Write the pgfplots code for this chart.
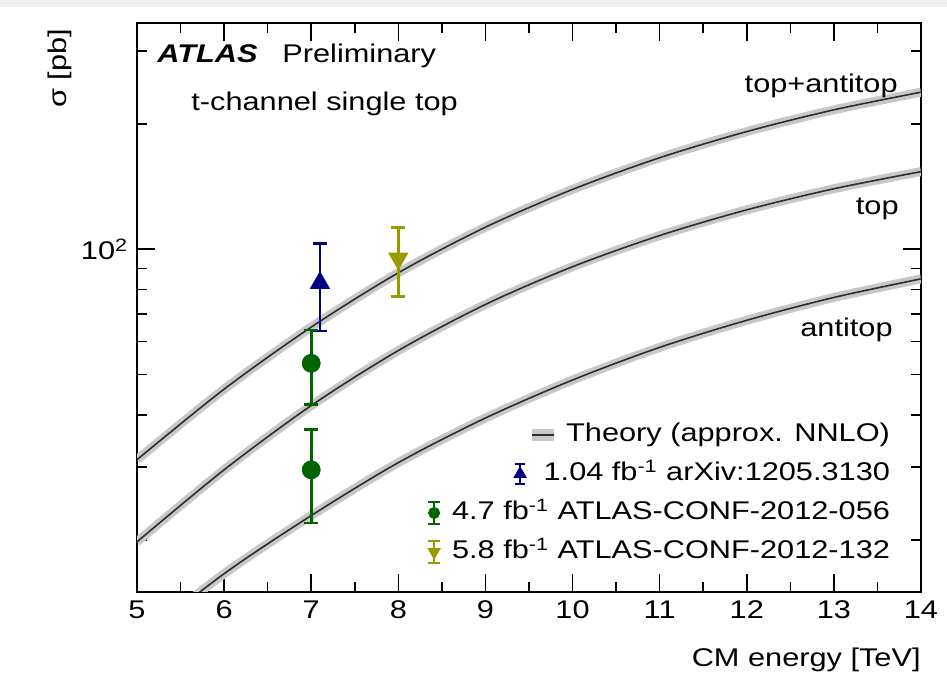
\documentclass[border=0pt]{standalone}
\usepackage{fontspec}
\setmainfont{Liberation Sans}[FakeStretch=1.2]
\usepackage{pgfplots}
\pgfplotsset{compat=1.18}
\usepackage{pgfplotstable}

\definecolor{atlblue}{RGB}{0,0,128}
\definecolor{atlgreen}{RGB}{0,100,0}
\definecolor{atlolive}{RGB}{153,153,0}
\definecolor{bandgray}{RGB}{200,200,200}
\definecolor{curvegray}{RGB}{45,45,45}
\newcommand\fs{\fontsize{12.8}{15}\selectfont}

% approx. NNLO theory curves [pb]
\pgfplotstableread{
E total top anti
5 31.2 19.8 11.4
6 46.1 29.5 16.6
7 65.0 42.1 22.9
8 87.8 57.1 30.7
9 113.0 73.7 39.3
10 139.3 90.8 48.5
11 166.0 107.9 58.1
12 191.9 124.4 67.5
13 216.4 139.8 76.6
14 238.6 153.7 84.9
}\theory

\begin{document}
\fs
\begin{tikzpicture}
\useasboundingbox (-68.5pt,-46.5pt) rectangle (405pt,296pt);
\fill[gray!12] (-68.5pt,292.5pt) rectangle (405pt,296pt);
\begin{axis}[
  at={(0pt,0pt)}, anchor=south west,
  scale only axis, width=392pt, height=284.5pt,
  xmin=5, xmax=14, ymode=log, ymin=15, ymax=350,
  xtick={5,6,...,14}, minor x tick num=1,
  ytick={100}, yticklabels={10\textsuperscript{2}},
  minor ytick={20,30,40,50,60,70,80,90,200,300},
  major tick length=9pt, minor tick length=5pt,
  every tick/.style={black, line width=0.8pt},
  axis line style={line width=0.8pt},
  /pgf/number format/assume math mode=true,
  tick label style={font=\fs},
  xlabel={CM energy [TeV]}, ylabel={σ [pb]},
  xlabel style={at={(axis description cs:1,-0.12)}, anchor=east, font=\fs, inner sep=0pt},
  ylabel style={at={(axis description cs:-0.098,0.99)}, anchor=east, font=\fs, inner sep=0pt},
  legend cell align=right,
  legend style={draw=none, fill=none, at={(axis description cs:0.963,0.044)}, anchor=south east,
    inner sep=0pt, outer sep=0pt, row sep=4.5pt, font=\fs,
    nodes={text height=10pt, text depth=3pt, inner sep=1pt}},
]
% theory bands and central lines
\addplot[bandgray, line width=4.5pt, smooth, forget plot] table[x=E, y=total] {\theory};
\addplot[curvegray, line width=0.8pt, smooth, forget plot] table[x=E, y=total] {\theory};
\addplot[bandgray, line width=4.5pt, smooth, forget plot] table[x=E, y=top] {\theory};
\addplot[curvegray, line width=0.8pt, smooth, forget plot] table[x=E, y=top] {\theory};
\addplot[bandgray, line width=4.5pt, smooth, forget plot] table[x=E, y=anti] {\theory};
\addplot[curvegray, line width=0.8pt, smooth,
  legend image code/.code={
    \path[draw=none, fill=none] (0pt,-5pt) rectangle (14pt,5pt);
    \begin{scope}[overlay, xshift=54.5pt]
      \fill[bandgray, draw=none] (0.5pt,-3pt) rectangle (11.5pt,3pt);
      \draw[curvegray, line width=0.8pt] (0.5pt,0pt) -- (11.5pt,0pt);
    \end{scope}
  }] table[x=E, y=anti] {\theory};
\addlegendentry{Theory (approx. NNLO)}

% 1.04 fb-1
\addplot[atlblue, only marks, mark=triangle*, mark size=5.5pt,
  error bars/.cd, y dir=both, y explicit,
  error bar style={line width=1.4pt},
  error mark options={rotate=90, line width=1.3pt, mark size=3.5pt},
  /pgfplots/legend image code/.code={
    \path[draw=none, fill=none] (0pt,-5pt) rectangle (14pt,5pt);
    \begin{scope}[overlay, xshift=43pt]
      \draw[atlblue, line width=1.2pt] (6pt,-5pt) -- (6pt,5pt) (3.5pt,-5pt) -- (8.5pt,-5pt) (3.5pt,5pt) -- (8.5pt,5pt);
      \draw[atlblue] plot[only marks, mark=triangle*, mark size=3.5pt] coordinates {(6pt,0pt)};
    \end{scope}
  }]
  coordinates {(7.1,83) += (0,20.4) -= (0,19.4)};
\addlegendentry{1.04 fb\textsuperscript{-1} arXiv:1205.3130}

% 4.7 fb-1
\addplot[atlgreen, only marks, mark=*, mark size=4.5pt,
  error bars/.cd, y dir=both, y explicit,
  error bar style={line width=1.4pt},
  error mark options={rotate=90, line width=1.3pt, mark size=3.5pt},
  /pgfplots/legend image code/.code={
    \path[draw=none, fill=none] (0pt,-5pt) rectangle (14pt,5pt);
    \draw[atlgreen, line width=1.2pt] (6pt,-5.5pt) -- (6pt,5.5pt) (3pt,-5.5pt) -- (9pt,-5.5pt) (3pt,5.5pt) -- (9pt,5.5pt);
    \draw[atlgreen] plot[only marks, mark=*, mark size=2.8pt] coordinates {(6pt,0pt)};
  }]
  coordinates {(7,53.2) += (0,10.8) -= (0,10.8)};
\addlegendentry{4.7 fb\textsuperscript{-1} ATLAS-CONF-2012-056}
\addplot[atlgreen, only marks, mark=*, mark size=4.5pt, forget plot,
  error bars/.cd, y dir=both, y explicit,
  error bar style={line width=1.4pt},
  error mark options={rotate=90, line width=1.3pt, mark size=3.5pt}]
  coordinates {(7,29.5) += (0,7.4) -= (0,7.5)};

% 5.8 fb-1
\addplot[atlolive, only marks, mark=triangle*, mark size=5.5pt, mark options={rotate=180},
  error bars/.cd, y dir=both, y explicit,
  error bar style={line width=1.4pt},
  error mark options={rotate=90, line width=1.3pt, mark size=3.5pt},
  /pgfplots/legend image code/.code={
    \path[draw=none, fill=none] (0pt,-5pt) rectangle (14pt,5pt);
    \draw[atlolive, line width=1.2pt] (6pt,-5.5pt) -- (6pt,5.5pt) (3pt,-5.5pt) -- (9pt,-5.5pt) (3pt,5.5pt) -- (9pt,5.5pt);
    \draw[atlolive] plot[only marks, mark=triangle*, mark size=3.5pt, mark options={rotate=180}] coordinates {(6pt,0pt)};
  }]
  coordinates {(8,95) += (0,18) -= (0,18)};
\addlegendentry{5.8 fb\textsuperscript{-1} ATLAS-CONF-2012-132}

% texts
\node[anchor=base west, inner sep=0pt, font=\fs\bfseries\itshape] at (axis description cs:0.0255,0.9297) {ATLAS};
\node[anchor=base west, inner sep=0pt, font=\fs] at (axis description cs:0.185,0.9297) {Preliminary};
\node[anchor=base west, inner sep=0pt, font=\fs] at (axis description cs:0.0689,0.847) {t-channel single top};
\node[anchor=base east, inner sep=0pt, font=\fs] at (axis description cs:0.9707,0.8787) {top+antitop};
\node[anchor=base east, inner sep=0pt, font=\fs] at (axis description cs:0.972,0.6643) {top};
\node[anchor=base east, inner sep=0pt, font=\fs] at (axis description cs:0.9643,0.4482) {antitop};
\end{axis}
\end{tikzpicture}
\end{document}
